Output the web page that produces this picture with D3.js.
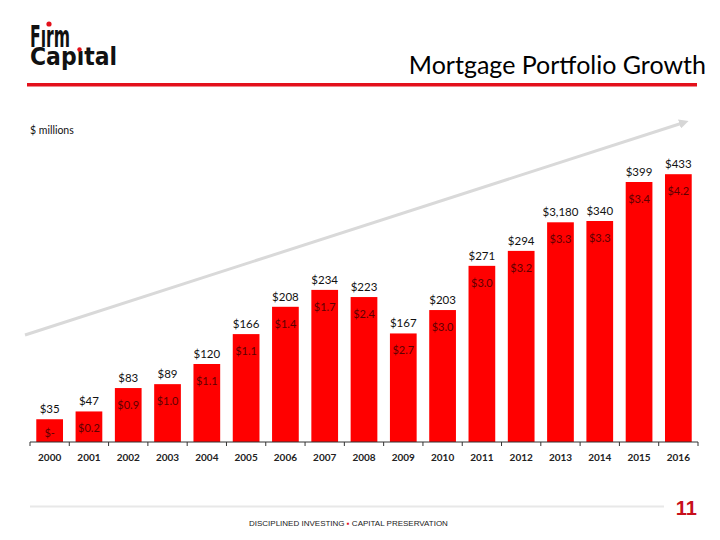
<!DOCTYPE html>
<html>
<head>
<meta charset="utf-8">
<script src="https://cdn.jsdelivr.net/npm/d3@7"></script>
<style>
  body { margin: 0; background: #fff; }
  svg { display: block; }
</style>
</head>
<body>
<div id="chart"></div>
<script>
// years on the x axis
var years = ["2000", "2001", "2002", "2003", "2004", "2005", "2006", "2007", "2008",
    "2009", "2010", "2011", "2012", "2013", "2014", "2015", "2016"];
// portfolio labels printed above the bars ($ millions)
var portfolio = [35, 47, 83, 89, 120, 166, 208, 234, 223, 167, 203, 271, 294, 3180, 340, 399, 433];
// bar heights as drawn in the picture
var barValues = [35, 47, 83, 89, 120, 166, 208, 234, 223, 167, 203, 271, 294, 338, 340, 400, 412];
// smaller figures printed inside the bars
var inner = [0, 0.2, 0.9, 1.0, 1.1, 1.1, 1.4, 1.7, 2.4, 2.7, 3.0, 3.0, 3.2, 3.3, 3.3, 3.4, 4.2];

var W = 720, H = 540;
var font = "Lato, 'Open Sans', sans-serif";

var svg = d3.select('#chart').append('svg')
    .attr('width', W)
    .attr('height', H);

// ---- header ----
var logo = svg.append('g');
var logoText = logo.append('text')
    .attr('font-family', "'DejaVu Sans Condensed', 'DejaVu Sans', sans-serif")
    .attr('font-weight', 'bold')
    .attr('fill', '#111');
logoText.append('tspan')
    .attr('x', 30).attr('y', 46.5)
    .attr('font-size', 31)
    .attr('textLength', 40)
    .attr('lengthAdjust', 'spacingAndGlyphs')
    .text('F\u0131rm');
logoText.append('tspan')
    .attr('x', 30).attr('y', 64.5)
    .attr('font-size', 24)
    .attr('textLength', 87)
    .attr('lengthAdjust', 'spacingAndGlyphs')
    .text('Cap\u0131tal');

// red dots on the i's
logo.selectAll('circle')
    .data([[49, 24, 2.6], [79.5, 49.5, 2.2]])
    .join('circle')
    .attr('cx', d => d[0])
    .attr('cy', d => d[1])
    .attr('r', d => d[2])
    .attr('fill', '#e3101b');

svg.append('text')
    .attr('x', 706).attr('y', 74)
    .attr('text-anchor', 'end')
    .attr('font-family', font)
    .attr('font-size', 25)
    .attr('fill', '#000')
    .text('Mortgage Portfolio Growth');

svg.append('rect')
    .attr('x', 27).attr('y', 83)
    .attr('width', 670).attr('height', 3.5)
    .attr('fill', '#e3101b');

svg.append('text')
    .attr('x', 30).attr('y', 134)
    .attr('font-family', font)
    .attr('font-size', 10.5)
    .attr('fill', '#111')
    .text('$ millions');

// ---- growth arrow ----
svg.append('defs').append('marker')
    .attr('id', 'arrow')
    .attr('viewBox', '0 0 10 10')
    .attr('refX', 5).attr('refY', 5)
    .attr('markerWidth', 3.2).attr('markerHeight', 3.2)
    .attr('orient', 'auto')
    .append('path')
    .attr('d', 'M0,0 L10,5 L0,10 z')
    .attr('fill', '#d6d6d6');

svg.append('line')
    .attr('x1', 25).attr('y1', 335)
    .attr('x2', 684).attr('y2', 122.5)
    .attr('stroke', '#d9d9d9')
    .attr('stroke-width', 3)
    .attr('marker-end', 'url(#arrow)');

// ---- chart ----
var x = d3.scaleBand()
    .domain(years)
    .range([30, 698])
    .paddingInner(0.32)
    .paddingOuter(0.16);

var y = d3.scaleLinear()
    .domain([0, 400])
    .range([442, 182]);

var rows = years.map((yr, i) => ({ year: yr, label: portfolio[i], value: barValues[i], inner: inner[i] }));

svg.append('g').selectAll('rect')
    .data(rows)
    .join('rect')
    .attr('x', d => x(d.year))
    .attr('y', d => y(d.value))
    .attr('width', x.bandwidth())
    .attr('height', d => y(0) - y(d.value))
    .attr('fill', '#ff0000');

var fmt = d3.format(',');
svg.append('g').selectAll('text')
    .data(rows)
    .join('text')
    .attr('x', d => x(d.year) + x.bandwidth() / 2)
    .attr('y', d => y(d.value) - 6)
    .attr('text-anchor', 'middle')
    .attr('font-family', font)
    .attr('font-size', 11.5)
    .attr('fill', '#111')
    .text(d => '$' + fmt(d.label));

svg.append('g').selectAll('text')
    .data(rows)
    .join('text')
    .attr('x', d => x(d.year) + x.bandwidth() / 2)
    .attr('y', d => Math.min(y(d.value) + 21, y(0) - 5))
    .attr('text-anchor', 'middle')
    .attr('font-family', font)
    .attr('font-size', 11)
    .attr('fill', '#5e0000')
    .text(d => d.inner === 0 ? '$-' : '$' + d.inner.toFixed(1));

// x axis: line with ticks between the categories
var axis = svg.append('g').attr('transform', 'translate(0,' + y(0) + ')');
axis.append('line')
    .attr('x1', x.range()[0]).attr('x2', x.range()[1])
    .attr('stroke', '#333').attr('stroke-width', 1);

var edges = years.map(yr => x(yr) - x.step() * x.paddingOuter()).concat([x.range()[1]]);
axis.selectAll('.tick-mark')
    .data(edges)
    .join('line')
    .attr('class', 'tick-mark')
    .attr('x1', d => d).attr('x2', d => d)
    .attr('y1', 0).attr('y2', 4)
    .attr('stroke', '#333');

axis.call(d3.axisBottom(x).tickSize(0).tickPadding(12))
    .call(g => g.select('.domain').remove())
    .selectAll('text')
    .attr('font-family', font)
    .attr('font-weight', 'bold')
    .attr('font-size', 10)
    .attr('fill', '#222');

// ---- footer ----
svg.append('line')
    .attr('x1', 30).attr('x2', 664)
    .attr('y1', 506.5).attr('y2', 506.5)
    .attr('stroke', '#e8e8e8')
    .attr('stroke-width', 2);

var foot = svg.append('text')
    .attr('x', 249).attr('y', 526)
    .attr('font-family', "'Liberation Sans', Arial, sans-serif")
    .attr('font-size', 8)
    .attr('fill', '#222');
foot.append('tspan').text('DISCIPLINED INVESTING ');
foot.append('tspan').attr('fill', '#e3101b').text('\u25AA');
foot.append('tspan').text(' CAPITAL PRESERVATION');

svg.append('text')
    .attr('x', 697).attr('y', 515)
    .attr('text-anchor', 'end')
    .attr('font-family', "'Liberation Sans', Arial, sans-serif")
    .attr('font-weight', 'bold')
    .attr('font-size', 20)
    .attr('fill', '#c8101b')
    .text('11');
</script>
</body>
</html>
